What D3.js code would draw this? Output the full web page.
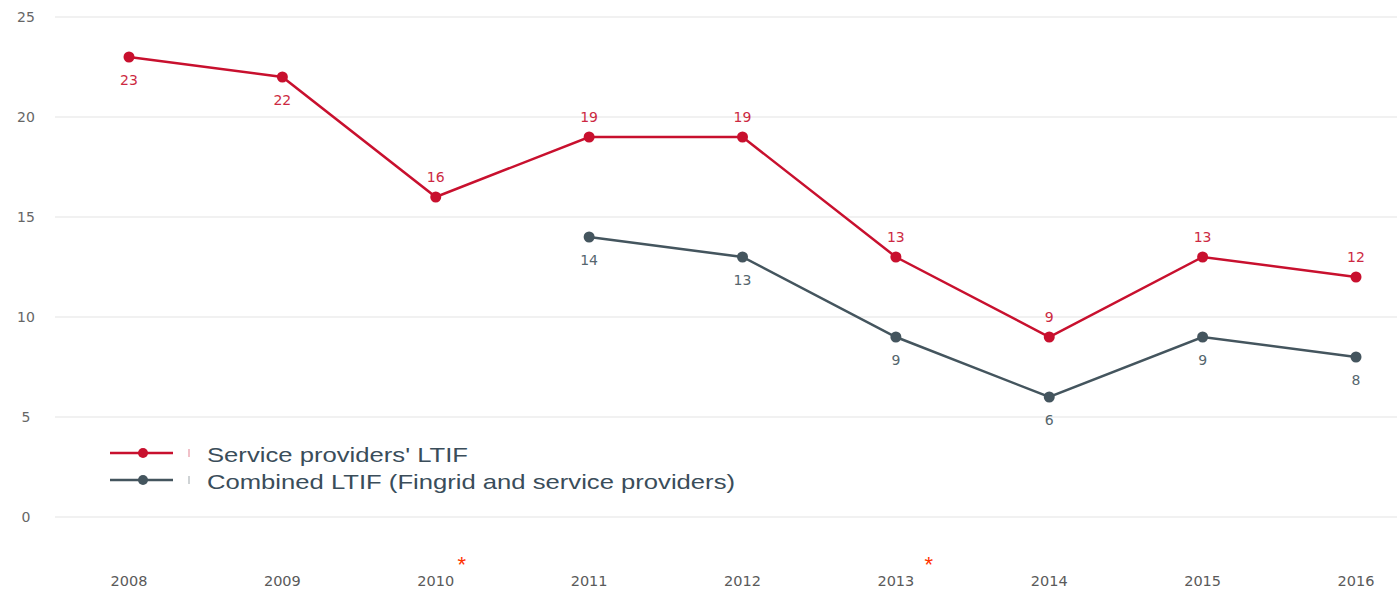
<!DOCTYPE html>
<html>
<head>
<meta charset="utf-8">
<script src="https://cdn.jsdelivr.net/npm/d3@7"></script>
<style>
	body { margin: 0; background: #fff; }
	svg { display: block; }
</style>
</head>
<body>
<svg id="chart"></svg>
<script>
const years = ["2008", "2009", "2010", "2011", "2012", "2013", "2014", "2015", "2016"];
const serviceLtif = [23, 22, 16, 19, 19, 13, 9, 13, 12];
const combinedLtif = [null, null, null, 14, 13, 9, 6, 9, 8];
// label goes under the point for these years on the red line
const serviceLabelBelow = ["2008", "2009"];
const starredYears = ["2010", "2013"];
const yTicks = [0, 5, 10, 15, 20, 25];
const legendLabels = ["Service providers' LTIF", "Combined LTIF (Fingrid and service providers)"];

const width = 1397;
const height = 591;
const red = "#c8102e";
const grey = "#44555e";

const svg = d3.select("#chart")
	.attr("width", width)
	.attr("height", height);

const x = d3.scalePoint()
	.domain(years)
	.range([129, 1356]);

const y = d3.scaleLinear()
	.domain([0, 25])
	.range([517, 17]);

// gridlines
svg.append("g")
	.selectAll("line")
	.data(yTicks)
	.enter().append("line")
	.attr("x1", 55)
	.attr("x2", width)
	.attr("y1", d => y(d))
	.attr("y2", d => y(d))
	.attr("stroke", "#ececec")
	.attr("stroke-width", 1.5);

// y tick labels
svg.append("g")
	.selectAll("text")
	.data(yTicks)
	.enter().append("text")
	.attr("x", 26)
	.attr("y", d => y(d) + 5)
	.attr("text-anchor", "middle")
	.style("font-family", "'DejaVu Sans', sans-serif")
	.style("font-size", "14px")
	.style("fill", "#666")
	.text(d => d);

// x labels
svg.append("g")
	.selectAll("text")
	.data(years)
	.enter().append("text")
	.attr("x", d => x(d))
	.attr("y", 586)
	.attr("text-anchor", "middle")
	.style("font-family", "'DejaVu Sans', sans-serif")
	.style("font-size", "14.5px")
	.style("fill", "#5a5a5a")
	.text(d => d);

// asterisks sit a bit right of the year label
const starOffset = { "2010": 26, "2013": 33 };
svg.append("g")
	.selectAll("text")
	.data(starredYears)
	.enter().append("text")
	.attr("x", d => x(d) + starOffset[d])
	.attr("y", 572)
	.attr("text-anchor", "middle")
	.style("font-family", "'Liberation Sans', Arial, sans-serif")
	.style("font-size", "22px")
	.style("fill", "#ff3300")
	.text("*");

function drawSeries(values, color, labelBelow) {
	const pts = years.map((yr, i) => ({ year: yr, value: values[i] }))
		.filter(d => d.value !== null);

	const line = d3.line()
		.x(d => x(d.year))
		.y(d => y(d.value));

	svg.append("path")
		.datum(pts)
		.attr("d", line)
		.attr("fill", "none")
		.attr("stroke", color)
		.attr("stroke-width", 2.5);

	svg.append("g")
		.selectAll("circle")
		.data(pts)
		.enter().append("circle")
		.attr("cx", d => x(d.year))
		.attr("cy", d => y(d.value))
		.attr("r", 5.5)
		.attr("fill", color);

	svg.append("g")
		.selectAll("text")
		.data(pts)
		.enter().append("text")
		.attr("x", d => x(d.year))
		.attr("y", d => labelBelow(d) ? y(d.value) + 28 : y(d.value) - 15)
		.attr("text-anchor", "middle")
		.style("font-family", "'DejaVu Sans', sans-serif")
		.style("font-size", "14px")
		.style("fill", color)
		.style("opacity", 0.9)
		.text(d => d.value);
}

drawSeries(combinedLtif, grey, () => true);
drawSeries(serviceLtif, red, d => serviceLabelBelow.includes(d.year));

// legend
const legend = svg.append("g");
const legendColors = [red, grey];
const legendWidths = [261, 528];
legendLabels.forEach((label, i) => {
	const ly = 453 + i * 27;
	legend.append("line")
		.attr("x1", 110)
		.attr("x2", 173)
		.attr("y1", ly)
		.attr("y2", ly)
		.attr("stroke", legendColors[i])
		.attr("stroke-width", 2.5);
	legend.append("circle")
		.attr("cx", 143)
		.attr("cy", ly)
		.attr("r", 5)
		.attr("fill", legendColors[i]);
	// small leftover tick next to the key
	legend.append("line")
		.attr("x1", 189)
		.attr("x2", 189)
		.attr("y1", ly - 4)
		.attr("y2", ly + 4)
		.attr("stroke", legendColors[i])
		.attr("stroke-opacity", 0.35)
		.attr("stroke-width", 1.5);
	legend.append("text")
		.attr("x", 207)
		.attr("y", ly + 9)
		.attr("textLength", legendWidths[i])
		.attr("lengthAdjust", "spacingAndGlyphs")
		.style("font-family", "'Liberation Sans', Arial, sans-serif")
		.style("font-size", "21px")
		.style("fill", "#3a4d5a")
		.text(label);
});
</script>
</body>
</html>
